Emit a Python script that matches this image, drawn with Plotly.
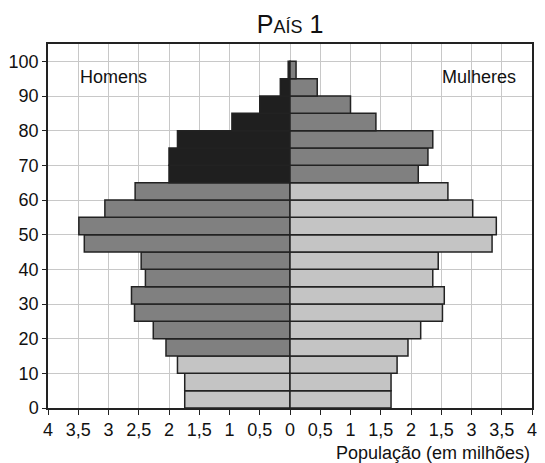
import plotly.graph_objects as go

# age groups (start of each 5-year band)
ages = [0, 5, 10, 15, 20, 25, 30, 35, 40, 45, 50, 55, 60, 65, 70, 75, 80, 85, 90, 95]
homens = [1.74, 1.74, 1.86, 2.05, 2.26, 2.57, 2.62, 2.39, 2.46, 3.40,
          3.49, 3.06, 2.56, 2.00, 2.00, 1.86, 0.96, 0.50, 0.16, 0.03]
mulheres = [1.67, 1.67, 1.77, 1.95, 2.16, 2.52, 2.55, 2.36, 2.45, 3.34,
            3.41, 3.02, 2.61, 2.12, 2.28, 2.36, 1.42, 1.00, 0.45, 0.10]

x_ticks = [-4, -3.5, -3, -2.5, -2, -1.5, -1, -0.5, 0, 0.5, 1, 1.5, 2, 2.5, 3, 3.5, 4]
x_labels = ["4", "3,5", "3", "2,5", "2", "1,5", "1", "0,5", "0",
            "0,5", "1", "1,5", "2", "1,5", "3", "3,5", "4"]
y_ticks = [0, 10, 20, 30, 40, 50, 60, 70, 80, 90, 100]

DARK = "#1f1f1f"
MID = "#808080"
LIGHT = "#c4c4c4"

def cor_homem(a):
    if a >= 65:
        return DARK
    if a >= 15:
        return MID
    return LIGHT

def cor_mulher(a):
    return MID if a >= 65 else LIGHT

mid = [a + 2.5 for a in ages]

fig = go.Figure()
fig.add_trace(go.Bar(
    y=mid, x=[-v for v in homens], orientation="h", width=5,
    marker=dict(color=[cor_homem(a) for a in ages], line=dict(color="#222222", width=1.5)),
    showlegend=False, hoverinfo="skip"
))
fig.add_trace(go.Bar(
    y=mid, x=mulheres, orientation="h", width=5,
    marker=dict(color=[cor_mulher(a) for a in ages], line=dict(color="#222222", width=1.5)),
    showlegend=False, hoverinfo="skip"
))

font = "Liberation Sans, Arial, sans-serif"

# page body has an 8px margin, so the figure is a bit smaller than the window
fig.update_layout(
    width=537, height=455,
    barmode="overlay",
    paper_bgcolor="white", plot_bgcolor="white",
    margin=dict(l=40, r=13, t=36, b=55),
    font=dict(family=font, size=18, color="#111111"),
    title=dict(
        text="<span style='font-size:25px'>P</span><span style='font-size:18px'>AÍS</span> <span style='font-size:25px'>1</span>",
        x=0.5, xref="paper", xanchor="center", y=0.965, yanchor="middle",
        font=dict(family=font, size=25, color="#111111")
    ),
    xaxis=dict(
        range=[-4, 4], tickvals=x_ticks, ticktext=x_labels, automargin=False,
        showgrid=True, gridcolor="#c8c8c8", gridwidth=1, zeroline=False,
        showline=True, linecolor="#222222", linewidth=1.5, mirror=True,
        ticks="outside", ticklen=5, tickcolor="#222222",
        tickfont=dict(size=18)
    ),
    yaxis=dict(
        range=[0, 105], tickvals=y_ticks, automargin=False,
        showgrid=True, gridcolor="#c8c8c8", gridwidth=1, zeroline=False,
        showline=True, linecolor="#222222", linewidth=1.5, mirror=True,
        ticks="outside", ticklen=4, tickcolor="#222222",
        tickfont=dict(size=18)
    ),
    annotations=[
        dict(text="Homens", x=-2.92, y=95.5, xref="x", yref="y", showarrow=False,
             font=dict(size=18)),
        dict(text="Mulheres", x=3.13, y=95.5, xref="x", yref="y", showarrow=False,
             font=dict(size=18)),
        dict(text="População (em milhões)", x=1.0, y=-0.124, xref="paper", yref="paper",
             xanchor="right", yanchor="middle", showarrow=False, font=dict(size=18)),
    ],
)

fig.write_html("out.html")
